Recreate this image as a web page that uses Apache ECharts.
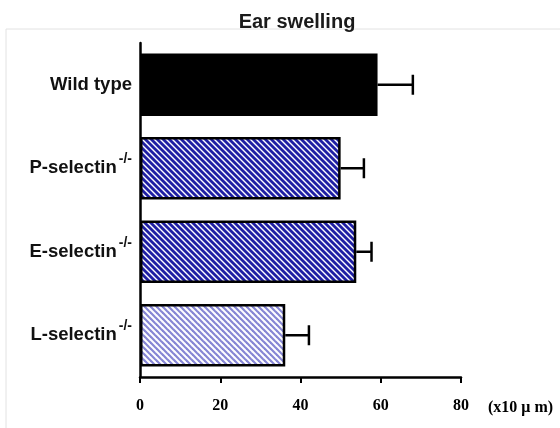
<!DOCTYPE html>
<html><head><meta charset="utf-8">
<script src="https://cdn.jsdelivr.net/npm/echarts@6/dist/echarts.min.js"></script>
<style>html,body{margin:0;padding:0;background:#fff}#c{width:560px;height:428px}</style>
</head><body><div id="c"></div>
<script>
var categories = ['Wild type', 'P-selectin', 'E-selectin', 'L-selectin'];
var superscripts = ['', '-/-', '-/-', '-/-'];
var values = [59.2, 50.0, 53.9, 36.2];
var errors = [8.8, 5.8, 3.8, 5.9];
var xTicks = [0, 20, 40, 60, 80];
var axisUnit = '(x10 \u03bc m)';
var titleText = 'Ear swelling';

function stripe(line, bg, w) {
  var n = 6;
  var c = document.createElement('canvas');
  c.width = n; c.height = n;
  var g = c.getContext('2d');
  g.fillStyle = bg; g.fillRect(0, 0, n, n);
  g.strokeStyle = line; g.lineWidth = w;
  for (var k = -1; k <= 1; k++) {
    g.beginPath(); g.moveTo(k * n - 1, -1); g.lineTo(k * n + n + 1, n + 1); g.stroke();
  }
  return { image: c, repeat: 'repeat' };
}
var fills = ['#000000', stripe('#1f1fa4', '#ffffff', 2.8), stripe('#1f1fa4', '#ffffff', 2.8), stripe('#8686d4', '#ffffff', 2.2)];

var chart = echarts.init(document.getElementById('c'));
chart.setOption({
  animation: false,
  backgroundColor: '#fff',
  title: { text: titleText, left: 292, top: 7, textAlign: 'center',
    textStyle: { fontFamily: 'Liberation Sans', fontSize: 20, fontWeight: 'bold', color: '#1a1a1a' } },
  graphic: [{ type: 'rect', shape: { x: 6, y: 29, width: 560, height: 400 }, style: { fill: 'none', stroke: '#e2e2e2', lineWidth: 1 }, silent: true }],
  grid: { left: 140, right: 99, top: 43, bottom: 51 },
  xAxis: {
    type: 'value', min: 0, max: 80, interval: 20,
    splitLine: { show: false },
    axisLine: { show: true, lineStyle: { color: '#000', width: 2.5 } },
    axisTick: { show: true, length: 6, lineStyle: { color: '#000', width: 2 } },
    axisLabel: { margin: 21, color: '#000', fontFamily: 'Liberation Serif', fontWeight: 'bold', fontSize: 16,
      formatter: function (v) { return xTicks.indexOf(v) >= 0 ? String(v) : ''; } },
    name: axisUnit, nameLocation: 'end', nameGap: 27,
    nameTextStyle: { color: '#000', fontFamily: 'Liberation Serif', fontWeight: 'bold', fontSize: 16,
      verticalAlign: 'top', padding: [23, 0, 0, 0] }
  },
  yAxis: {
    type: 'category', data: categories, inverse: true,
    axisLine: { show: true, lineStyle: { color: '#000', width: 2.5 } },
    axisTick: { show: false },
    axisLabel: { margin: 8, color: '#111',
      formatter: function (v) {
        var s = superscripts[categories.indexOf(v)];
        return '{a|' + v + '}' + (s ? '{s|' + s + '}' : '');
      },
      rich: {
        a: { fontFamily: 'Liberation Sans', fontWeight: 'bold', fontSize: 18.5, color: '#111' },
        s: { fontFamily: 'Liberation Sans', fontWeight: 'bold', fontSize: 14, color: '#111', padding: [0, 0, 18, 2] }
      }
    }
  },
  series: [{
    type: 'bar', barWidth: '75%',
    data: values.map(function (v, i) {
      return { value: v, itemStyle: { color: fills[i], borderColor: '#000', borderWidth: 2.5 } };
    }),
    z: 2
  }, {
    type: 'custom', z: 3,
    data: values.map(function (v, i) { return [i, v, v + errors[i]]; }),
    renderItem: function (params, api) {
      var i = api.value(0);
      var p0 = api.coord([api.value(1), i]);
      var p1 = api.coord([api.value(2), i]);
      var h = 10;
      return { type: 'group', children: [
        { type: 'line', shape: { x1: p0[0], y1: p0[1], x2: p1[0], y2: p1[1] }, style: { stroke: '#000', lineWidth: 2.5 } },
        { type: 'line', shape: { x1: p1[0], y1: p1[1] - h, x2: p1[0], y2: p1[1] + h }, style: { stroke: '#000', lineWidth: 2.5 } }
      ] };
    },
    encode: { x: [1, 2], y: 0 }
  }]
});
</script></body></html>
